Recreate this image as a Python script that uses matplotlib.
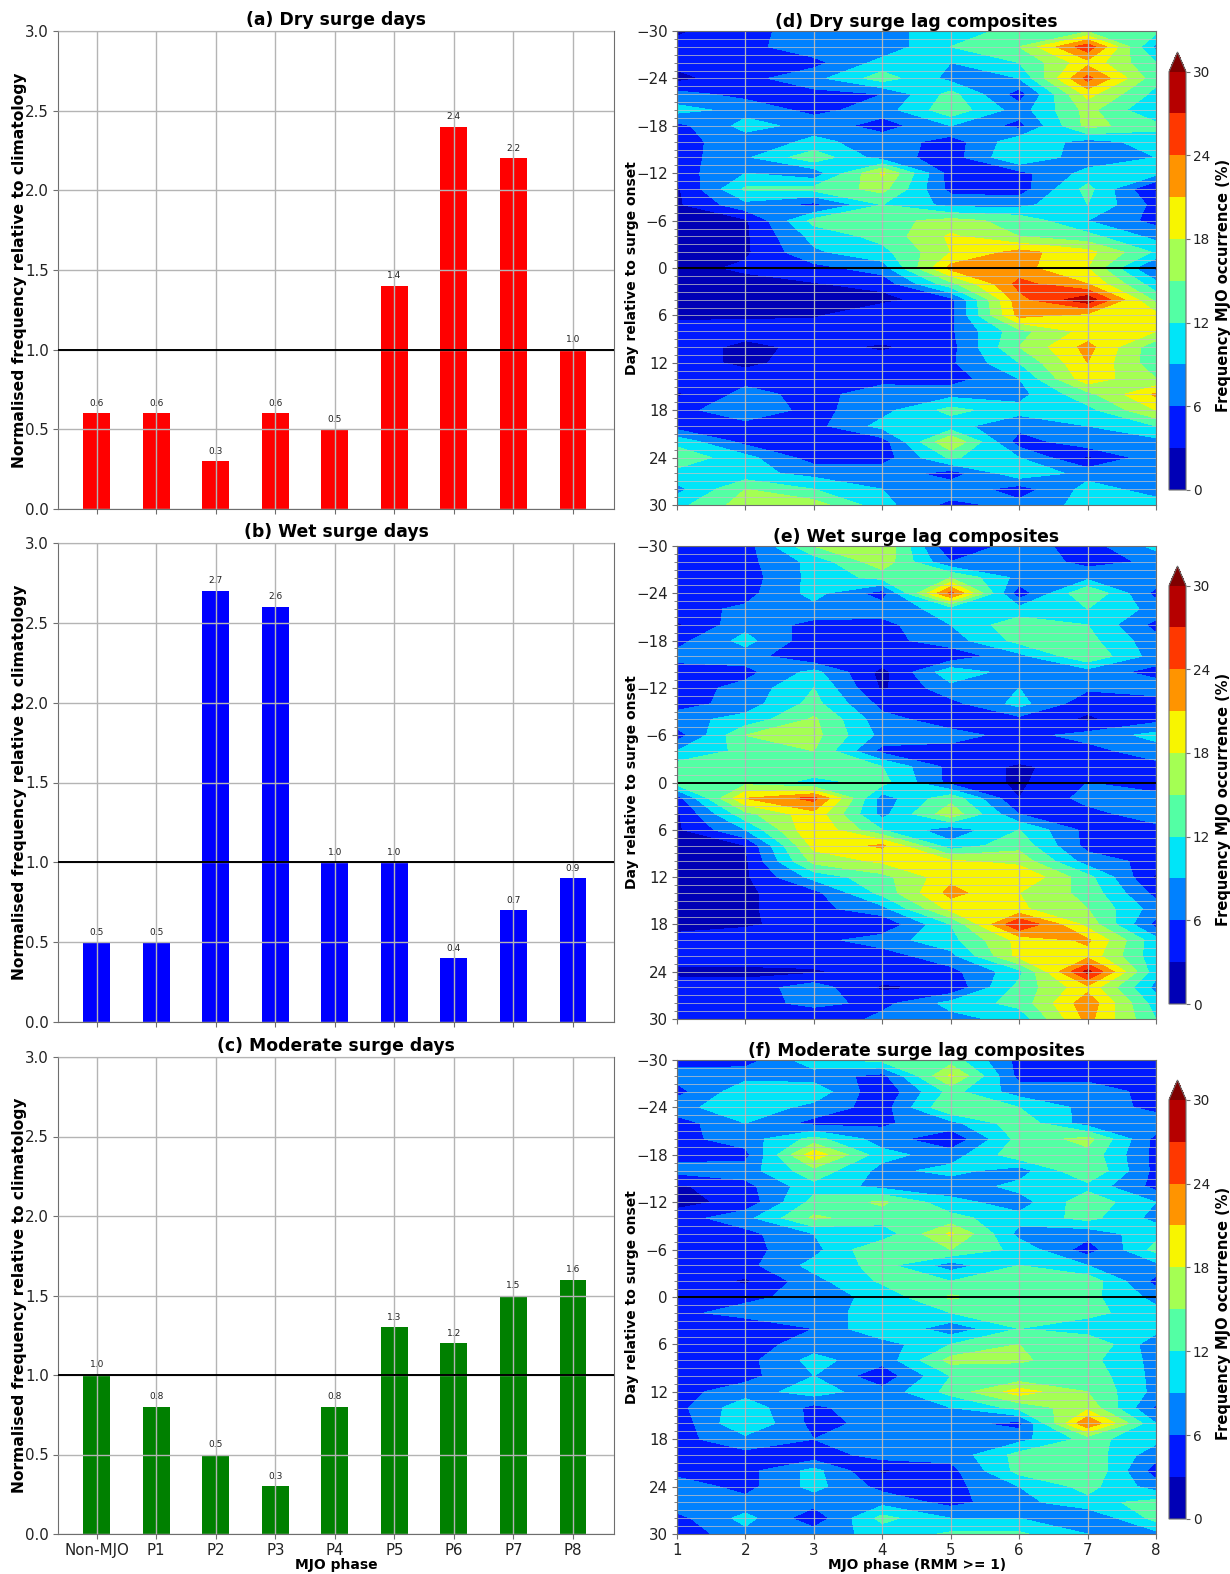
import numpy as np
import matplotlib
matplotlib.use("Agg")
import matplotlib.pyplot as plt

W, H = 1230, 1574
phases = ["Non-MJO", "P1", "P2", "P3", "P4", "P5", "P6", "P7", "P8"]
dry_days = [0.6, 0.6, 0.3, 0.6, 0.5, 1.4, 2.4, 2.2, 1.0]
wet_days = [0.5, 0.5, 2.7, 2.6, 1.0, 1.0, 0.4, 0.7, 0.9]
moderate_days = [1.0, 0.8, 0.5, 0.3, 0.8, 1.3, 1.2, 1.5, 1.6]

mjo_phase = [1, 2, 3, 4, 5, 6, 7, 8]
lag_days = list(range(-30, 31, 2))
levels = [0, 3, 6, 9, 12, 15, 18, 21, 24, 27, 30]

dry_lag = [
    [2.5, 5, 7.5, 8, 10.5, 13, 14.5, 13],
    [4, 5, 8, 7, 12, 15, 26, 8],
    [4, 4, 5, 10, 9, 12, 20, 12],
    [2, 5, 8, 13.5, 8, 9, 25, 13],
    [7, 5, 5, 6, 13, 4.5, 19, 11],
    [10, 8, 5, 7.5, 14, 7.5, 16, 9],
    [5, 10, 8, 4.5, 9, 5, 16, 13],
    [5, 7.5, 9.5, 8, 4.5, 11, 8, 10],
    [4.5, 8.5, 14, 7.5, 4.5, 12, 7, 9],
    [4.5, 9, 7, 18.5, 4.5, 5, 10, 10],
    [2.5, 12.5, 13, 16, 5, 4.5, 13, 2.5],
    [2.5, 8, 5, 12, 8, 8, 12, 5],
    [2, 2.5, 13, 14, 16, 14, 9, 5],
    [2, 2.5, 10, 13, 18.5, 15, 13, 8],
    [2, 2.5, 8.5, 11, 18, 22, 19, 11.5],
    [2, 3.5, 5, 7.5, 22, 22, 18, 5],
    [2, 2, 2.8, 4, 14, 25, 21, 10],
    [2, 2, 2, 2, 5, 23, 29, 14],
    [2.5, 2.5, 2.5, 6, 5, 22, 20, 19],
    [4, 4.5, 5, 5, 5.5, 14, 19, 18],
    [5, 2, 4, 2.5, 5, 15, 22, 13],
    [5, 2, 5, 4.5, 5.5, 12, 21, 13],
    [5, 5, 4, 5, 4.5, 9, 20, 15],
    [2.5, 7, 5, 7.5, 8, 8, 14, 21.5],
    [5, 8, 5, 8, 13, 10, 11, 18],
    [4.5, 5, 5, 10, 10, 7, 9, 12],
    [11, 5, 5, 4.5, 18, 4.5, 8, 8],
    [14, 10, 4.5, 4.5, 12.5, 9, 2.5, 8],
    [11, 10, 8, 8, 4.5, 11, 8, 8],
    [8, 15, 12, 9, 8, 4.5, 10, 8],
    [11, 16.5, 16.5, 10, 5, 7, 10, 10],
]

wet_lag = [
    [4.5, 4.5, 15, 18, 3, 7.5, 4.5, 10],
    [4.5, 5, 10, 17, 6, 8, 5, 6.5],
    [4.5, 4.5, 10, 13, 15, 8, 8, 8],
    [4.5, 5, 10, 4.5, 25, 4, 15, 5],
    [5, 6.5, 8, 7.5, 10, 10, 12, 8],
    [2.5, 8, 5, 5, 9, 14, 12, 5],
    [5, 10, 4, 5, 7.5, 13, 13, 7],
    [7, 7.5, 3, 5, 4, 8, 14.5, 7.5],
    [4.5, 5, 10, 2, 11, 7.5, 7.5, 5],
    [4.5, 7, 12, 2.5, 8, 9, 6.5, 7.5],
    [4.5, 7.5, 13, 5, 5, 10, 4, 4.5],
    [8, 10, 15.5, 7, 4.5, 5, 2.5, 5],
    [4.5, 15, 16, 8, 7, 5, 7, 10],
    [9, 13, 15, 5, 5, 5, 5, 7.5],
    [13.5, 14, 14, 12, 5, 2.5, 4.5, 5],
    [13.5, 14, 11, 13, 5, 2.5, 6, 4.5],
    [4.5, 21, 25, 7.5, 14, 3, 7, 7],
    [2.5, 14, 20, 8, 17, 6, 5, 7.5],
    [2.5, 9, 21, 12, 7, 12, 5, 5],
    [2.5, 3, 19, 21.5, 10, 14, 5, 3.5],
    [2.5, 2.5, 16, 18.5, 18.5, 17, 7.5, 5],
    [2.5, 2.5, 10, 14, 20, 21, 13, 2.5],
    [2.5, 2.5, 5, 13, 22, 18, 14, 5],
    [2.5, 2.5, 5, 8, 19, 18.5, 15, 7.5],
    [2.5, 2.5, 4.5, 3.5, 12, 27, 17, 5],
    [3.5, 5, 5, 7.5, 11, 19, 21.5, 10],
    [5, 5, 5, 4.5, 8, 19, 20, 10],
    [2, 2, 2.5, 5, 5, 11, 28, 10],
    [5, 4.5, 7.5, 2.5, 3.5, 13, 20, 8],
    [4.5, 4.5, 7, 5, 10, 13, 23, 10.5],
    [5, 4, 3, 7, 8, 10, 22, 12],
]

moderate_lag = [
    [5, 4.5, 11, 13, 13.5, 5, 4.5, 6],
    [7, 8, 7.5, 5, 18.5, 5, 5, 5],
    [5, 11, 11, 3.5, 13, 7.5, 7.5, 5],
    [8, 11, 8, 4.5, 15, 12, 8, 5],
    [4.5, 9, 5, 5.5, 8, 14, 7.5, 8],
    [5, 7.5, 13, 7.5, 3.5, 13, 16, 5],
    [5, 5, 20, 10, 7.5, 14, 14, 5],
    [7, 7.5, 14, 8, 10, 7.5, 15, 5],
    [2.5, 5, 11, 8, 7, 10, 11, 5],
    [2, 4, 13, 15.5, 10, 7.5, 14, 9],
    [4.5, 8, 15.5, 13.5, 13, 10, 13, 8],
    [5, 5, 9, 10, 18.5, 8, 7, 11],
    [5, 5, 8, 15, 15, 11, 4.5, 13],
    [5, 5, 10, 13, 7.5, 12, 9, 8],
    [5, 2.5, 8, 12.5, 12, 15, 14, 5],
    [5, 5, 7.5, 10, 15.5, 13, 13, 8],
    [5, 7.5, 8, 10, 12, 14, 13, 10],
    [5, 3, 6, 12, 7, 12, 10, 10],
    [4.5, 4.5, 7.5, 7.5, 12, 15, 15, 7],
    [5, 5, 10, 7, 16, 15.5, 13, 8],
    [4, 5, 9, 4, 12, 12.5, 14, 8],
    [5, 7.5, 10.5, 7, 13, 19.5, 15, 8],
    [5, 11, 5, 9, 9, 13, 17, 5.5],
    [4, 12, 5, 7, 7, 5, 24, 9],
    [5, 8, 6, 8, 8, 8, 13, 10],
    [4.5, 5, 4, 7.5, 7, 13, 14, 7],
    [5, 5, 10, 2.5, 5, 13, 15, 4.5],
    [7.5, 5, 10, 5, 5, 9, 13, 7.5],
    [8, 7, 7, 8, 5, 8, 11, 13],
    [5, 10, 4, 13, 9, 9, 6, 13],
    [4, 8, 7.5, 10, 12.5, 12.5, 9, 8],
]

fig = plt.figure(figsize=(W / 100, H / 100), dpi=100)


def add_axes(x0, y0, x1, y1):
    return fig.add_axes([x0 / W, 1 - y1 / H, (x1 - x0) / W, (y1 - y0) / H])


GREY = "#6e6e6e"


def bar_panel(box, values, colour, title, show_x):
    ax = add_axes(*box)
    ax.bar(range(len(phases)), values, width=0.45, color=colour)
    ax.grid(True, color="#b4b4b4", linewidth=1.0, zorder=3)
    ax.set_axisbelow(False)
    ax.axhline(1.0, color="black", linewidth=1.4, zorder=4)
    ax.set_xlim(-0.65, 8.69)
    ax.set_ylim(0, 3)
    ax.set_yticks([0, 0.5, 1, 1.5, 2, 2.5, 3])
    ax.set_yticklabels(["0.0", "0.5", "1.0", "1.5", "2.0", "2.5", "3.0"])
    ax.set_xticks(range(len(phases)))
    ax.set_xticklabels(phases if show_x else [""] * len(phases))
    ax.tick_params(labelsize=10.8, color=GREY, labelcolor="#222222", pad=3)
    for i, v in enumerate(values):
        ax.text(i, v + 0.035, f"{v:.1f}", ha="center", va="bottom", fontsize=6.5, color="#222222")
    ax.set_ylabel("Normalised frequency relative to climatology", fontsize=11.2, fontweight="bold")
    ax.yaxis.set_label_coords(-0.056, 0.5)
    if show_x:
        ax.set_xlabel("MJO phase", fontsize=10, fontweight="bold", labelpad=0)
    ax.set_title(title, fontsize=12.4, fontweight="bold", pad=4)
    for s in ax.spines.values():
        s.set_color(GREY)
    return ax


def lag_panel(box, cbox, values, title, show_x):
    ax = add_axes(*box)
    z = np.array(values, dtype=float)
    cf = ax.contourf(mjo_phase, lag_days, z, levels=levels, cmap="jet", extend="max")
    ax.set_xlim(1, 8)
    ax.set_ylim(30, -30)
    ax.set_yticks(range(-30, 31, 6))
    ax.set_yticks(range(-30, 31), minor=True)
    ax.set_xticks(mjo_phase)
    if not show_x:
        ax.set_xticklabels([""] * 8)
    ax.grid(True, which="major", axis="x", color="#b4b4b4", linewidth=0.9)
    ax.grid(True, which="both", axis="y", color="#c4c4c4", linewidth=0.6, alpha=0.85)
    ax.axhline(0, color="black", linewidth=1.4)
    ax.tick_params(labelsize=10.8, color=GREY, labelcolor="#222222", pad=3)
    ax.tick_params(which="minor", length=2, color=GREY)
    ax.set_ylabel("Day relative to surge onset", fontsize=10, fontweight="bold")
    ax.yaxis.set_label_coords(-0.08, 0.5)
    if show_x:
        ax.set_xlabel("MJO phase (RMM >= 1)", fontsize=9.8, fontweight="bold", labelpad=0)
    ax.set_title(title, fontsize=12.4, fontweight="bold", pad=3)
    for s in ax.spines.values():
        s.set_color(GREY)
    cax = add_axes(*cbox)
    cb = fig.colorbar(cf, cax=cax, extend="max", extendfrac=0.047, ticks=[0, 6, 12, 18, 24, 30])
    cb.ax.tick_params(labelsize=9.8, color=GREY, labelcolor="#222222", length=3, pad=2)
    cb.set_label("Frequency MJO occurrence (%)", fontsize=10.5, fontweight="bold")
    cb.ax.yaxis.set_label_coords(2.75, 0.49)
    cb.outline.set_edgecolor(GREY)
    return ax


bar_panel((58, 31, 614, 509), dry_days, "red", "(a) Dry surge days", False)
bar_panel((58, 543, 614, 1022), wet_days, "blue", "(b) Wet surge days", False)
bar_panel((58, 1057, 614, 1534), moderate_days, "green", "(c) Moderate surge days", True)

lag_panel((677, 31, 1156, 505), (1169, 52, 1186, 490), dry_lag, "(d) Dry surge lag composites", False)
lag_panel((677, 546, 1156, 1019), (1169, 566, 1186, 1004), wet_lag, "(e) Wet surge lag composites", False)
lag_panel((677, 1060, 1156, 1534), (1169, 1080, 1186, 1519), moderate_lag, "(f) Moderate surge lag composites", True)

fig.savefig("out.png", dpi=100)
